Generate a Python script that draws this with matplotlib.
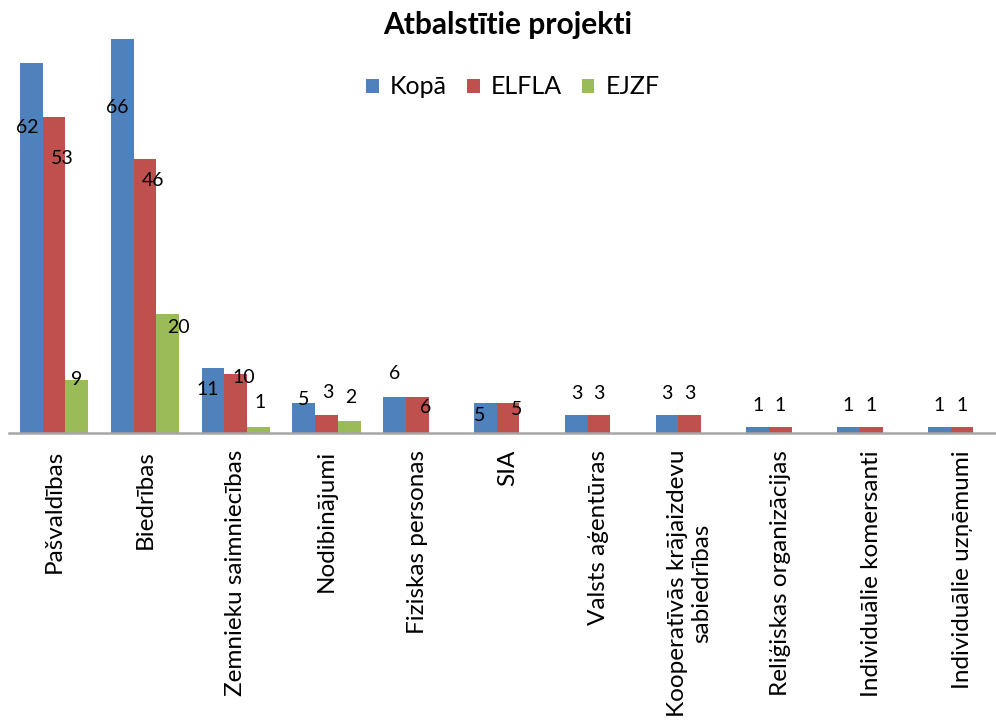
import numpy as np
import matplotlib
matplotlib.use("Agg")
import matplotlib.pyplot as plt
from matplotlib.patches import Patch

plt.rcParams['font.family'] = ['Lato', 'DejaVu Sans']

# --- DATEN ---
categories = ["Pašvaldības", "Biedrības", "Zemnieku saimniecības", "Nodibinājumi",
              "Fiziskas personas", "SIA", "Valsts aģentūras",
              "Kooperatīvās krājaizdevu\nsabiedrības", "Reliģiskas organizācijas",
              "Individuālie komersanti", "Individuālie uzņēmumi"]
kopa = [62, 66, 11, 5, 6, 5, 3, 3, 1, 1, 1]
elfla = [53, 46, 10, 3, 6, 5, 3, 3, 1, 1, 1]
ejzf = [9, 20, 1, 2, 0, 0, 0, 0, 0, 0, 0]

series = [("Kopā", kopa, "#4F81BD"), ("ELFLA", elfla, "#C0504D"), ("EJZF", ejzf, "#9BBB59")]

# Beschriftungs-Versatz (dx in Balkenbreiten, dy in Dateneinheiten), wie im Excel-Bild
label_dx = [
    [-0.19, -0.23, -0.22, 0, 0, -0.24, 0.05, 0, 0, 0, 0],
    [0.35, 0.36, 0.37, 0.07, 0.38, 0.39, 0, 0, 0, 0, 0],
    [0, 0.46, 0.07, 0.08, 0, 0, 0, 0, 0, 0, 0],
]
label_dy = [
    [-10.7, -11.5, -3.6, 0.6, 4.1, -2.1, 3.75, 3.75, 3.74, 3.74, 3.74],
    [-6.9, -3.6, -0.6, 3.9, -1.76, -0.93, 3.75, 3.75, 3.74, 3.74, 3.74],
    [-0.07, -2.2, 4.08, 3.92, 0, 0, 0, 0, 0, 0, 0],
]

W, H = 996, 722
fig = plt.figure(figsize=(W / 100, H / 100), dpi=100)
# Plotbereich ragt rechts leicht aus dem Bild (wie im Original abgeschnitten)
ax = fig.add_axes([8.65 / W, (H - 433.3) / H, 998.8 / W, 70 * 5.97 / H])

x = np.arange(len(categories))
bw = 0.25
for k, (name, vals, col) in enumerate(series):
    xs = x + (k - 1) * bw
    ax.bar(xs, vals, width=bw, color=col, linewidth=0)
    for i, v in enumerate(vals):
        if v == 0:
            continue
        ax.text(xs[i] + label_dx[k][i] * bw, v + label_dy[k][i], str(v),
                ha="center", va="center", fontsize=14, color="black")

ax.set_xlim(-0.5, len(categories) - 0.5)
ax.set_ylim(0, 70)
ax.set_yticks([])
for s in ["top", "right", "left"]:
    ax.spines[s].set_visible(False)
ax.spines["bottom"].set_color("#A6A6A6")
ax.spines["bottom"].set_linewidth(1.8)
ax.set_xticks(x)
ax.set_xticklabels(categories, rotation=90, fontsize=17.5, ha="center", va="top",
                   multialignment="center")
ax.tick_params(axis="x", length=0, pad=12)

fig.text(508 / W, 1 - 25 / H, "Atbalstītie projekti", ha="center", va="center",
         fontsize=21.5, fontweight="bold")

handles = [Patch(facecolor=c, edgecolor="none", label=n) for n, _, c in series]
fig.legend(handles=handles, loc="center", bbox_to_anchor=(513 / W, 1 - 87 / H), ncol=3,
           frameon=False, fontsize=18, handlelength=0.5, handleheight=0.5,
           handletextpad=0.45, columnspacing=0.8)

fig.savefig("out.png", dpi=100)
